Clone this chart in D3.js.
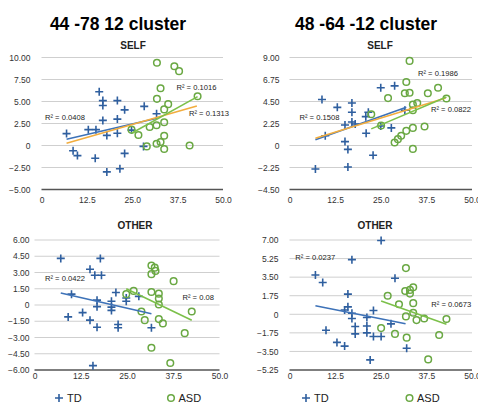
<!DOCTYPE html>
<html><head><meta charset="utf-8">
<script src="https://cdn.jsdelivr.net/npm/d3@7"></script>
<style>body{margin:0;background:#fff;} svg{display:block;font-family:"Liberation Sans",Arial,Helvetica,sans-serif;}</style>
</head><body><svg id="c" width="478" height="403"></svg>
<script>
// ---------- data ----------
const clusterTitles = ["44 -78 12 cluster", "48 -64 -12 cluster"];
const panelTitles = ["SELF", "SELF", "OTHER", "OTHER"];
const seriesNames = ["TD", "ASD"];
const xTicks = [0, 12.5, 25, 37.5, 50];
const yTicksSelfA = [-5, -2.5, 0, 2.5, 5, 7.5, 10];
const yTicksSelfB = [-4.5, -2.25, 0, 2.25, 4.5, 6.75, 9];
const yTicksOtherA = [-6, -4.5, -3, -1.5, 0, 1.5, 3, 4.5, 6];
const yTicksOtherB = [-5.25, -3.5, -1.75, 0, 1.75, 3.5, 5.25, 7];

// Panel 1: 44 -78 12, SELF
const selfA_TD = [[6.9,1.35],[8.7,-0.6],[9.9,-1.15],[12.9,1.8],[15.0,1.8],[14.8,-1.45],[15.9,6.1],[16.9,5.1],[16.9,4.55],[16.9,2.85],[18.0,1.15],[18.0,-3.0],[20.9,5.1],[20.9,3.0],[20.9,1.4],[22.9,4.05],[22.9,-0.9],[21.6,-2.65],[24.8,1.75],[28.3,4.45],[31.7,3.6],[28.1,-0.1]];
const selfA_ASD = [[24.8,1.8],[26.7,1.2],[29.0,-0.1],[29.8,2.1],[31.7,2.3],[33.8,2.65],[33.8,1.1],[31.7,0.2],[32.8,0.4],[33.8,-0.4],[40.8,0.0],[34.9,4.7],[33.8,4.1],[31.8,5.3],[32.8,6.5],[31.8,9.4],[36.6,9.0],[37.9,8.45],[43.0,5.6]];
const selfA_fitTD = [[6.9,0.7],[31.8,3.1]];
const selfA_fitASD = [[24.8,1.4],[43.0,5.55]];
const selfA_fitAll = [[6.9,0.25],[42.8,4.5]];
const selfA_r2 = ["R² = 0.0408", "R² = 0.1016", "R² = 0.1313"];

// Panel 2: 48 -64 -12, SELF
const selfB_TD = [[7.1,-2.4],[8.9,4.7],[9.8,1.0],[13.1,3.9],[15.2,2.1],[15.2,0.4],[16.0,-0.4],[16.0,-2.2],[17.1,4.35],[17.1,3.4],[17.1,2.4],[18.0,2.2],[21.0,1.25],[20.9,2.95],[21.6,3.4],[22.9,-1.0],[25.0,5.9],[28.8,6.1],[25.0,2.0],[27.9,1.8],[31.6,3.6]];
const selfB_ASD = [[22.4,3.2],[32.9,8.65],[32.0,6.5],[31.6,5.35],[32.9,5.4],[37.9,5.35],[40.7,5.9],[27.0,4.85],[43.0,4.8],[35.0,4.35],[33.8,4.2],[33.8,3.6],[25.1,2.05],[37.0,1.95],[33.8,1.8],[32.0,1.5],[30.6,1.0],[29.7,0.65],[28.8,0.3],[33.8,-0.35]];
const selfB_fitTD = [[7.1,0.6],[32.0,3.9]];
const selfB_fitASD = [[22.4,1.7],[43.0,4.95]];
const selfB_fitAll = [[7.1,0.75],[42.8,4.85]];
const selfB_r2 = ["R² = 0.1508", "R² = 0.1986", "R² = 0.0822"];

// Panel 3: 44 -78 12, OTHER
const otherA_TD = [[7.1,4.3],[17.8,4.3],[15.0,3.3],[16.3,2.75],[18.1,2.75],[10.0,1.0],[9.1,-1.1],[13.0,-0.7],[15.0,-1.4],[16.9,-2.05],[16.9,0.45],[16.9,-0.15],[20.8,0.35],[20.8,-0.2],[20.8,-0.5],[22.0,1.15],[22.6,-1.8],[22.6,-2.1],[24.8,0.65],[24.8,0.35],[15.8,-5.6],[28.2,0.8],[31.6,-2.1]];
const otherA_ASD = [[24.8,1.0],[26.8,1.3],[28.9,-0.6],[29.8,-1.4],[31.6,3.65],[32.5,3.45],[32.7,3.15],[31.6,2.85],[37.6,2.2],[31.6,1.2],[33.6,1.05],[33.6,0.6],[33.6,0.05],[33.6,-1.3],[34.7,-1.7],[42.5,-0.6],[40.6,-2.6],[31.6,-3.95],[36.7,-5.35]];
const otherA_fitTD = [[7.1,1.1],[31.6,-0.8]];
const otherA_fitASD = [[24.8,1.5],[42.5,-1.4]];
const otherA_r2 = ["R² = 0.0422", "R² = 0.08"];

// Panel 4: 48 -64 -12, OTHER
const otherB_TD = [[7.1,3.7],[9.1,3.0],[17.1,5.15],[25.1,6.95],[28.9,3.4],[16.0,1.9],[16.0,0.7],[15.1,0.4],[17.1,0.1],[17.1,-0.4],[18.0,-1.15],[18.0,-1.85],[10.0,-1.5],[13.0,-2.65],[15.1,-3.0],[21.2,-0.3],[21.2,-1.1],[21.2,-1.75],[23.0,0.35],[23.0,-2.1],[25.1,-2.1],[27.8,-0.9],[32.1,-3.2],[22.1,-4.3]];
const otherB_ASD = [[31.9,4.35],[33.9,2.55],[31.7,2.2],[33.0,2.3],[33.0,1.95],[26.9,1.75],[30.0,0.95],[33.9,1.05],[33.9,0.15],[31.9,-0.2],[34.8,-0.55],[36.9,-0.4],[43.0,-0.45],[25.1,-1.3],[28.9,-1.85],[32.1,-2.2],[41.0,-1.95],[38.0,-4.25]];
const otherB_fitTD = [[7.1,0.8],[31.8,-0.9]];
const otherB_fitASD = [[25.1,1.25],[43.0,-0.95]];
const otherB_r2 = ["R² = 0.0237", "R² = 0.0673"];

// ---------- layout ----------
const C = {td:"#2f5f9f", asd:"#6aa843", fitTD:"#3d72b8", fitASD:"#7cc04a", fitAll:"#f2ad3e", grid:"#cfcfcf", axis:"#555", text:"#333"};
const panels = [
  {title:panelTitles[0], td:selfA_TD, asd:selfA_ASD, yTicks:yTicksSelfA, xr:[41.5,223], yr:[189.5,57.5], gap:11, xLabY:205, titleX:133, titleY:48.5,
   fits:[[selfA_fitTD,C.fitTD],[selfA_fitAll,C.fitAll],[selfA_fitASD,C.fitASD]],
   r2:[[selfA_r2[0],45,120],[selfA_r2[1],176.5,90],[selfA_r2[2],189,116]]},
  {title:panelTitles[1], td:selfB_TD, asd:selfB_ASD, yTicks:yTicksSelfB, xr:[289.5,472], yr:[189.5,57.5], gap:10, xLabY:205, titleX:380, titleY:48.5,
   fits:[[selfB_fitTD,C.fitTD],[selfB_fitAll,C.fitAll],[selfB_fitASD,C.fitASD]],
   r2:[[selfB_r2[0],299.5,119.5],[selfB_r2[1],418,75.5],[selfB_r2[2],431,112]]},
  {title:panelTitles[2], td:otherA_TD, asd:otherA_ASD, yTicks:yTicksOtherA, xr:[34.5,219.5], yr:[370,240], gap:5, xLabY:381, titleX:135, titleY:228.5,
   fits:[[otherA_fitTD,C.fitTD],[otherA_fitASD,C.fitASD]],
   r2:[[otherA_r2[0],45,281],[otherA_r2[1],182.5,300]]},
  {title:panelTitles[3], td:otherB_TD, asd:otherB_ASD, yTicks:yTicksOtherB, xr:[289.5,472], yr:[370,240], gap:11, xLabY:381, titleX:375, titleY:228.5,
   fits:[[otherB_fitTD,C.fitTD],[otherB_fitASD,C.fitASD]],
   r2:[[otherB_r2[0],295.3,259.5],[otherB_r2[1],431.3,307]]}
];

const svg = d3.select("#c");
svg.append("rect").attr("width",478).attr("height",403).attr("fill","#fff");

// cluster titles
[[clusterTitles[0],118],[clusterTitles[1],366]].forEach(([t,x])=>{
  svg.append("text").attr("x",x).attr("y",30).attr("text-anchor","middle")
    .attr("font-size",17.5).attr("font-weight","bold").attr("fill","#000").text(t);
});

const yFmt = v => v===0 ? "0" : d3.format(".2f")(v);
const xFmt = v => v===0 ? "0" : d3.format(".1f")(v);
const plus = "M-4,0H4M0,-4V4";

panels.forEach(p=>{
  const x = d3.scaleLinear().domain([0,50]).range(p.xr);
  const yd = d3.extent(p.yTicks);
  const y = d3.scaleLinear().domain(yd).range(p.yr);
  const g = svg.append("g");

  g.append("text").attr("x",p.titleX).attr("y",p.titleY).attr("text-anchor","middle")
    .attr("font-size",10).attr("font-weight","bold").attr("fill","#222").text(p.title);

  // gridlines
  g.selectAll(".grid").data(p.yTicks).join("line")
    .attr("x1",p.xr[0]).attr("x2",p.xr[1])
    .attr("y1",d=>y(d)).attr("y2",d=>y(d))
    .attr("stroke",d=>d===yd[0]?C.axis:C.grid).attr("stroke-width",d=>d===yd[0]?1.4:1);

  // y labels
  const yAxis = d3.axisLeft(y).tickValues(p.yTicks).tickFormat(yFmt).tickSize(0).tickPadding(p.gap);
  const ya = g.append("g").attr("transform",`translate(${p.xr[0]},0)`).call(yAxis);
  ya.select(".domain").remove();
  ya.selectAll("text").attr("font-size",8.5).attr("fill",C.text).attr("font-family","Liberation Sans, Arial, sans-serif");

  // x labels
  const xAxis = d3.axisBottom(x).tickValues(xTicks).tickFormat(xFmt).tickSize(0).tickPadding(0);
  const xa = g.append("g").attr("transform",`translate(0,${p.xLabY-8})`).call(xAxis);
  xa.select(".domain").remove();
  xa.selectAll("text").attr("font-size",8.5).attr("fill",C.text).attr("font-family","Liberation Sans, Arial, sans-serif");

  // markers
  g.selectAll(".td").data(p.td).join("path")
    .attr("d",plus).attr("transform",d=>`translate(${x(d[0])},${y(d[1])})`)
    .attr("stroke",C.td).attr("stroke-width",1.6).attr("fill","none");
  g.selectAll(".asd").data(p.asd).join("circle")
    .attr("cx",d=>x(d[0])).attr("cy",d=>y(d[1])).attr("r",3.3)
    .attr("stroke",C.asd).attr("stroke-width",1.5).attr("fill","none");

  // trend lines
  const line = d3.line().x(d=>x(d[0])).y(d=>y(d[1]));
  p.fits.forEach(([pts,col])=>{
    g.append("path").attr("d",line(pts)).attr("stroke",col).attr("stroke-width",1.6).attr("fill","none");
  });

  // R² labels
  p.r2.forEach(([t,lx,ly])=>{
    g.append("text").attr("x",lx).attr("y",ly).attr("font-size",7.6).attr("fill","#222").text(t);
  });
});

// legends
[[59,171],[306,409.5]].forEach(([xt,xa])=>{
  const lg = svg.append("g");
  lg.append("path").attr("d",plus).attr("transform",`translate(${xt},398)`).attr("stroke",C.td).attr("stroke-width",1.6);
  lg.append("text").attr("x",xt+8).attr("y",402).attr("font-size",11).attr("fill","#222").text(seriesNames[0]);
  lg.append("circle").attr("cx",xa).attr("cy",398).attr("r",3.3).attr("stroke",C.asd).attr("stroke-width",1.5).attr("fill","none");
  lg.append("text").attr("x",xa+7.5).attr("y",402).attr("font-size",11).attr("fill","#222").text(seriesNames[1]);
});
</script></body></html>
